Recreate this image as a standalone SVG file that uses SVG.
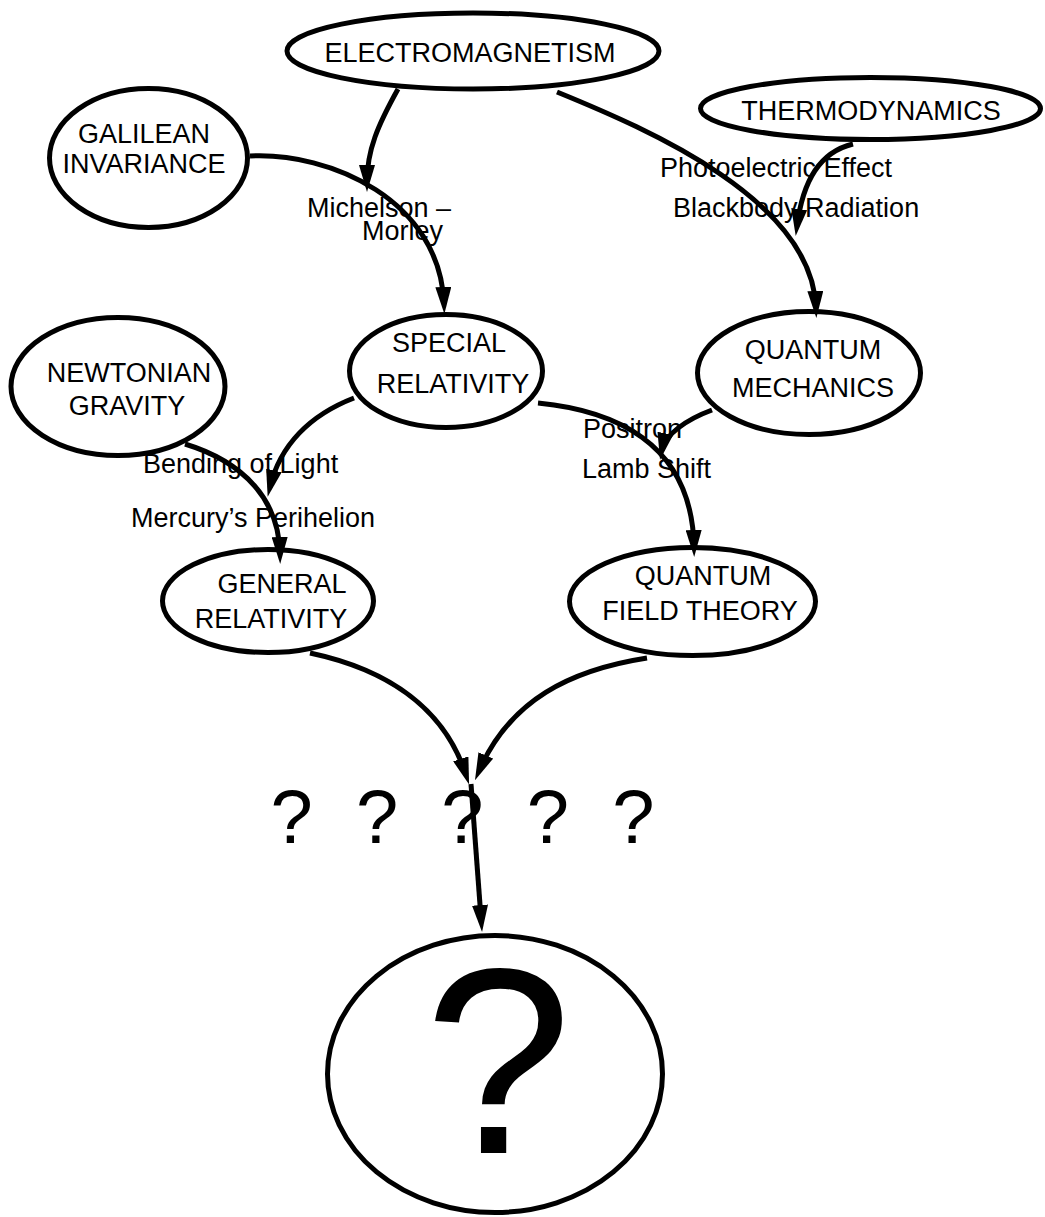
<svg xmlns="http://www.w3.org/2000/svg" width="1045" height="1217" viewBox="0 0 1045 1217">
<style>
.n{fill:#fff;stroke:#000;stroke-width:5}
text{font-family:"Liberation Sans",Arial,sans-serif;font-size:27px;fill:#000}
.c{text-anchor:middle}
.e{fill:none;stroke:#000;stroke-width:5;marker-end:url(#ah)}
</style>
<defs>
<marker id="ah" markerUnits="userSpaceOnUse" markerWidth="27" markerHeight="16" refX="17" refY="8" orient="auto"><path d="M0,0 L27,8 L0,16 z" fill="#000"/></marker>
</defs>
<rect width="1045" height="1217" fill="#fff"/>
<g id="em"><ellipse class="n" cx="473" cy="51" rx="186" ry="38"/><text class="c" x="470" y="62">ELECTROMAGNETISM</text></g>
<g id="thermo"><ellipse class="n" cx="870.5" cy="108.5" rx="170" ry="31"/><text class="c" x="871" y="120">THERMODYNAMICS</text></g>
<g id="galilean"><ellipse class="n" cx="148.5" cy="158" rx="99" ry="69.5"/><text class="c" x="144" y="143">GALILEAN</text><text class="c" x="144" y="173">INVARIANCE</text></g>
<g id="newtonian"><ellipse class="n" cx="118" cy="386.5" rx="107" ry="69"/><text class="c" x="129" y="382">NEWTONIAN</text><text class="c" x="127" y="415">GRAVITY</text></g>
<g id="sr"><ellipse class="n" cx="446" cy="371" rx="96.5" ry="56.5"/><text class="c" x="449" y="352">SPECIAL</text><text class="c" x="453" y="393">RELATIVITY</text></g>
<g id="qm"><ellipse class="n" cx="809" cy="373" rx="111.5" ry="61.5"/><text class="c" x="813" y="359">QUANTUM</text><text class="c" x="813" y="397">MECHANICS</text></g>
<g id="gr"><ellipse class="n" cx="268" cy="601" rx="105.5" ry="51.5"/><text class="c" x="282" y="593">GENERAL</text><text class="c" x="271" y="628">RELATIVITY</text></g>
<g id="qft"><ellipse class="n" cx="692.5" cy="601.5" rx="123" ry="54"/><text class="c" x="703" y="585">QUANTUM</text><text class="c" x="700" y="620">FIELD THEORY</text></g>
<g id="unknown"><ellipse class="n" cx="495" cy="1074" rx="167.5" ry="138.5"/><text class="c" x="498" y="1153" style="font-size:265px">?</text></g>
<g id="unknowns"><text class="c" x="462.5" y="843" style="font-size:76px;word-spacing:22px">? ? ? ? ?</text></g>
<g id="connectors">
<text x="307" y="217">Michelson –</text>
<text x="362" y="240">Morley</text>
<text x="660" y="177">Photoelectric Effect</text>
<text x="673" y="217">Blackbody Radiation</text>
<text x="143" y="473">Bending of Light</text>
<text x="131" y="527">Mercury’s Perihelion</text>
<text x="583" y="438">Positron</text>
<text x="582" y="478">Lamb Shift</text>
<path class="e" d="M250,156 C330,152 440,200 444,304"/>
<path class="e" d="M398,89 C378,125 367,150 367,182"/>
<path class="e" d="M557,92 C650,130 812,200 816,308"/>
<path class="e" d="M853,144 C820,152 803,180 797,226"/>
<path class="e" d="M185,444 C244,462 279,500 280,554"/>
<path class="e" d="M354,398 C310,415 280,445 270,487"/>
<path class="e" d="M538,403 C610,410 692,440 694,547"/>
<path class="e" d="M712,410 C685,420 665,435 662,450"/>
<path class="e" d="M310,653 C390,670 445,710 466,775"/>
<path class="e" d="M647,658 C570,670 510,700 479,771"/>
<path class="e" d="M471,784 L481.3,922"/>
</g>
</svg>
